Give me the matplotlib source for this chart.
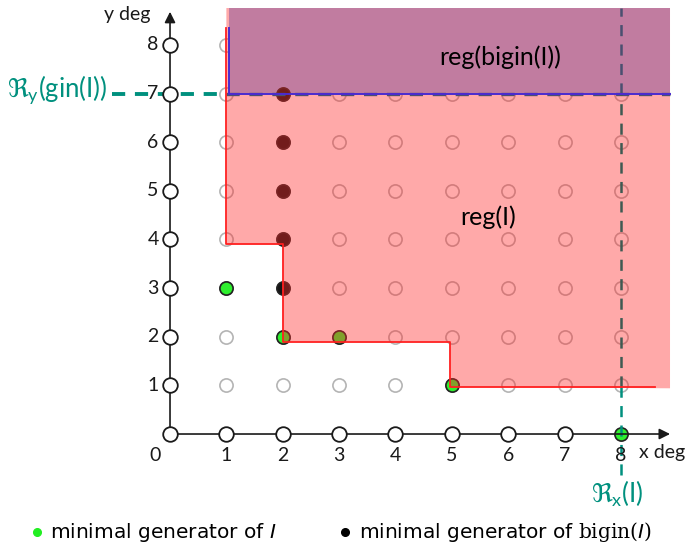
import matplotlib
matplotlib.use("Agg")
import matplotlib.pyplot as plt
import numpy as np

plt.rcParams['font.family'] = ['Lato', 'DejaVu Sans']
plt.rcParams['mathtext.fontset'] = 'custom'
plt.rcParams['mathtext.rm'] = 'DejaVu Serif'
plt.rcParams['mathtext.it'] = 'DejaVu Sans:italic'
plt.rcParams['mathtext.sf'] = 'Lato'
plt.rcParams['mathtext.fallback'] = 'stix'
plt.rcParams['lines.scale_dashes'] = False

# datos
ejes_x = [0, 1, 2, 3, 4, 5, 6, 7]
ejes_y = [1, 2, 3, 4, 5, 6, 7, 8]
rejilla = range(1, 9)
gen_I = [(1, 3), (2, 2), (3, 2), (5, 1), (8, 0)]
gen_bigin = [(2, 3), (2, 4), (2, 5), (2, 6), (2, 7)]
# borde de reg(I) (escalera)
borde_x = [1.0, 1.0, 2.0, 2.0, 4.97, 4.97, 8.6]
borde_y = [8.35, 3.9, 3.9, 1.9, 1.9, 0.97, 0.97]
reg_der = 8.87
reg_sup = 8.76
ry = 7  # R_y(gin(I))
rx = 8  # R_x(I)

VERDE = '#2ef02e'
TEAL = '#00907e'
ROSA = '#ff2828'

fig = plt.figure(figsize=(6.88, 5.46), dpi=100)
ax = fig.add_axes([0, 0, 1, 1])
ax.set_xlim(-3.016, 9.189)
ax.set_ylim(-2.303, 8.925)
ax.axis('off')

# puntos grises de la rejilla
gx, gy = np.meshgrid(list(rejilla), list(rejilla))
ax.plot(gx.ravel(), gy.ravel(), 'o', ms=9.5, mfc='none', mec='#b4b4b4', mew=1.2, zorder=1)

# region morada (debajo del rosa, que es transparente)
ax.fill_between([1.05, reg_der], ry, reg_sup, color='#99b4f0', lw=0, zorder=1.5)

# generadores (quedan debajo de la region rosa)
ax.plot([p[0] for p in gen_bigin], [p[1] for p in gen_bigin], 'o', ms=9.5,
        mfc='#151515', mec='#222222', mew=1.2, zorder=1.7)
ax.plot([p[0] for p in gen_I], [p[1] for p in gen_I], 'o', ms=9.5,
        mfc=VERDE, mec='#222222', mew=1.2, zorder=1.7)

# region reg(I)
poli_x = [borde_x[0]] + borde_x[:-1] + [reg_der, reg_der]
poli_y = [reg_sup] + borde_y[:-1] + [borde_y[-1] - 0.03, reg_sup]
ax.fill(poli_x, poli_y, color=ROSA, alpha=0.4, lw=0, zorder=2)
ax.plot(borde_x, borde_y, color='#ff2020', lw=1.3, zorder=3)
ax.plot([1.05, 1.05, reg_der], [8.35, ry, ry], color='#4a2bd0', lw=1.4, zorder=3)

# lineas discontinuas
ax.plot([-1.03, 1.0], [ry, ry], color=TEAL, lw=2.8, ls=(0, (9.5, 7)), zorder=2.5)
ax.plot([1.0, reg_der], [ry, ry], color='#4a5070', lw=2.4, ls=(0, (9.5, 7)), zorder=2.5)
ax.plot([rx, rx], [-0.85, 0.97], color=TEAL, lw=1.8, ls=(0, (8, 6)), zorder=2.5)
ax.plot([rx, rx], [0.97, ry], color='#3e5a52', lw=1.8, ls=(0, (8, 6)), zorder=2.5)
ax.plot([rx, rx], [ry, reg_sup], color='#4a5070', lw=1.8, ls=(0, (8, 6)), zorder=2.5)

# ejes
ax.annotate('', xy=(8.92, 0), xytext=(0, 0),
            arrowprops=dict(arrowstyle='-|>', color='#1a1a1a', lw=1.2, mutation_scale=16),
            zorder=3.5)
ax.annotate('', xy=(0, 8.74), xytext=(0, 0),
            arrowprops=dict(arrowstyle='-|>', color='#1a1a1a', lw=1.2, mutation_scale=16),
            zorder=3.5)
ax.plot(ejes_x, [0] * len(ejes_x), 'o', ms=10.5, mfc='white', mec='#1a1a1a', mew=1.3, zorder=4)
ax.plot([0] * len(ejes_y), ejes_y, 'o', ms=10.5, mfc='white', mec='#1a1a1a', mew=1.3, zorder=4)

for v in ejes_y:
    ax.text(-0.2, v, str(v), ha='right', va='center', fontsize=14, color='#1a1a1a', zorder=5)
for v in ejes_x[1:] + [8]:
    ax.text(v, -0.45, str(v), ha='center', va='center', fontsize=14, color='#1a1a1a')
ax.text(-0.27, -0.45, '0', ha='center', va='center', fontsize=14, color='#1a1a1a')
ax.text(8.73, -0.37, 'x deg', ha='center', va='center', fontsize=14, color='#1a1a1a')
ax.text(-0.76, 8.62, 'y deg', ha='center', va='center', fontsize=14, color='#1a1a1a')

# etiquetas
ax.text(5.85, 7.75, 'reg(bigin(I))', ha='center', va='center', fontsize=18, zorder=6)
ax.text(5.64, 4.46, 'reg(I)', ha='center', va='center', fontsize=18, zorder=6)
ax.text(-2.0, 7.08, r'$\Re_{\mathsf{y}}$(gin(I))', ha='center', va='center',
        fontsize=18.5, color=TEAL)
ax.text(7.93, -1.22, r'$\Re_{\mathsf{x}}$(I)', ha='center', va='center',
        fontsize=18.5, color=TEAL)

# leyenda
ax.plot([-2.36], [-2.02], 'o', ms=5.5, color='#22ee22', clip_on=False)
ax.text(-2.13, -2.02, 'minimal generator of $\\mathit{I}$', ha='left', va='center',
        fontsize=14.5, family='DejaVu Sans')
ax.plot([3.1], [-2.02], 'o', ms=5.5, color='black', clip_on=False)
ax.text(3.36, -2.02, 'minimal generator of $\\mathrm{bigin}(\\mathit{I})$', ha='left',
        va='center', fontsize=14.5, family='DejaVu Sans')

fig.savefig('out.png', dpi=100)
